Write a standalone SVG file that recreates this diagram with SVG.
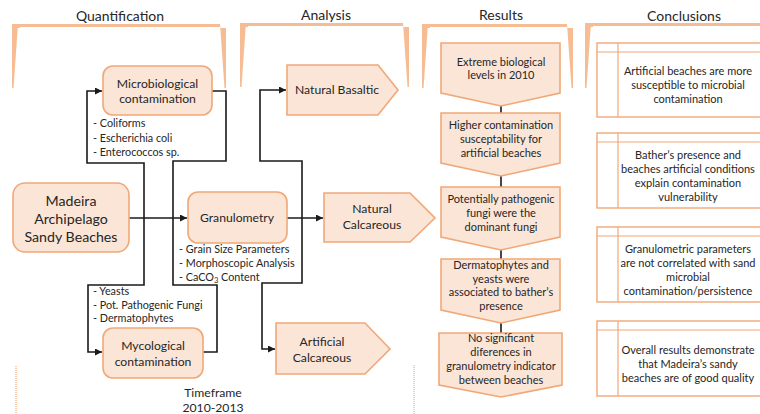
<svg xmlns="http://www.w3.org/2000/svg" width="760" height="414" viewBox="0 0 760 414">
<defs>
<style>
text{font-family:Lato,"Liberation Sans",sans-serif;fill:#262626;text-anchor:middle}
.hdr{font-size:14px}
.bk{fill:#F6BD95}
.nd{fill:#FBE5D6;stroke:#F0A878;stroke-width:1.6}
.cl{fill:#fff;stroke:#F0A878;stroke-width:1.4}
.ln{fill:none;stroke:#F0A878;stroke-width:1.2}
.t12{font-size:11px}
.t13{font-size:12.2px}
.t16{font-size:14.2px}
.bl{font-size:10.8px;text-anchor:start}
.cn{fill:none;stroke:#1a1a1a;stroke-width:1.6}
.dot{fill:none;stroke:#F6BD95;stroke-width:1.5;stroke-dasharray:1 1}
</style>
<marker id="ar" viewBox="0 0 8 8" refX="8" refY="4" markerWidth="7" markerHeight="7" markerUnits="userSpaceOnUse" orient="auto">
<path d="M0,0 L8,4 L0,8 Z" fill="#1a1a1a"/>
</marker>
</defs>
<rect width="760" height="414" fill="#fff"/>

<g id="headers">
<text class="hdr" x="120" y="21">Quantification</text>
<text class="hdr" x="326" y="20">Analysis</text>
<text class="hdr" x="501" y="20">Results</text>
<text class="hdr" x="684" y="21">Conclusions</text>
</g>

<g id="brackets">
<path class="bk" d="M12,24 H226 V28 H220 V27 H20 V28 H12 Z M12,24 L18,24 L13.5,88 L12,88 Z M226,24 L220,24 L224.5,88 L226,88 Z"/>
<path class="bk" d="M240,23 H409 V27 H403 V26 H248 V27 H240 Z M240,23 L246,23 L241.5,87 L240,87 Z M409,23 L403,23 L407.5,87 L409,87 Z"/>
<path class="bk" d="M422,24 H573 V28 H567 V27 H430 V28 H422 Z M422,24 L428,24 L423.5,88 L422,88 Z M573,24 L567,24 L571.5,88 L573,88 Z"/>
<path class="bk" d="M585,23 H770 V26 H593 V27 H585 Z M585,23 L591,23 L586.5,88 L585,88 Z"/>
<line class="dot" x1="16" y1="366" x2="16" y2="414"/>
<line class="dot" x1="414" y1="365" x2="414" y2="414"/>
</g>

<g id="connectors">
<path class="cn" d="M129,218 H187" marker-end="url(#ar)"/>
<path class="cn" d="M144,218 V163 H87 V91 H102" marker-end="url(#ar)"/>
<path class="cn" d="M144,218 V285 H88 V352 H102" marker-end="url(#ar)"/>
<path class="cn" d="M212,91 H226 V161 H173 V285 H217 V352 H203"/>
<path class="cn" d="M287,218 H323" marker-end="url(#ar)"/>
<path class="cn" d="M302,218 V161 H260 V90 H286" marker-end="url(#ar)"/>
<path class="cn" d="M302,218 V283 H262 V349 H275" marker-end="url(#ar)"/>
<path class="cn" d="M501,106 V113 M501,176 V187 M501,250 V259 M501,323 V333"/>
</g>

<g id="madeira">
<rect class="nd" x="13" y="183" width="116" height="69" rx="12"/>
<text class="t16" x="71" y="206">Madeira</text>
<text class="t16" x="71" y="224">Archipelago</text>
<text class="t16" x="71" y="242">Sandy Beaches</text>
</g>

<g id="microbiological">
<rect class="nd" x="103" y="66" width="109" height="49" rx="10"/>
<text class="t13" x="157.5" y="87.5">Microbiological</text>
<text class="t13" x="157.5" y="102.5">contamination</text>
<text class="bl" x="93" y="127">- Coliforms</text>
<text class="bl" x="93" y="141.5">- Escherichia coli</text>
<text class="bl" x="93" y="156">- Enterococcos sp.</text>
</g>

<g id="granulometry">
<rect class="nd" x="188" y="192" width="99" height="51" rx="10"/>
<text class="t13" x="237" y="222">Granulometry</text>
<text class="bl" x="179" y="253">- Grain Size Parameters</text>
<text class="bl" x="179" y="267">- Morphoscopic Analysis</text>
<text class="bl" x="179" y="281">- CaCO<tspan font-size="7.5" dy="2">3</tspan><tspan dy="-2"> Content</tspan></text>
</g>

<g id="mycological">
<rect class="nd" x="103" y="328" width="100" height="50" rx="10"/>
<text class="t13" x="153" y="350">Mycological</text>
<text class="t13" x="153" y="366">contamination</text>
<text class="bl" x="93" y="295">- Yeasts</text>
<text class="bl" x="93" y="308.5">- Pot. Pathogenic Fungi</text>
<text class="bl" x="93" y="322">- Dermatophytes</text>
</g>

<g id="timeframe">
<text class="t13" x="213" y="397">Timeframe</text>
<text class="t13" x="213" y="412">2010-2013</text>
</g>

<g id="natural-basaltic">
<path class="nd" d="M287,65 H378 L398,90 L378,115 H287 Z"/>
<text class="t13" x="337" y="94">Natural Basaltic</text>
</g>

<g id="natural-calcareous">
<path class="nd" d="M324,193 H410 L435,218 L410,242 H324 Z"/>
<text class="t13" x="372" y="213">Natural</text>
<text class="t13" x="372" y="229">Calcareous</text>
</g>

<g id="artificial-calcareous">
<path class="nd" d="M276,323 H365 L390,349 L365,374 H276 Z"/>
<text class="t13" x="322" y="346">Artificial</text>
<text class="t13" x="322" y="362">Calcareous</text>
</g>

<g id="result1">
<path class="nd" d="M441,43 H560 V93 L501,106 L441,93 Z"/>
<text class="t12" x="501" y="66">Extreme biological</text>
<text class="t12" x="501" y="79">levels in 2010</text>
</g>
<g id="result2">
<path class="nd" d="M441,113 H560 V163 L501,176 L441,163 Z"/>
<text class="t12" x="501" y="129">Higher contamination</text>
<text class="t12" x="501" y="143">susceptability for</text>
<text class="t12" x="501" y="157">artificial beaches</text>
</g>
<g id="result3">
<path class="nd" d="M441,187 H560 V237 L501,250 L441,237 Z"/>
<text class="t12" x="501" y="203">Potentially pathogenic</text>
<text class="t12" x="501" y="217">fungi were the</text>
<text class="t12" x="501" y="231">dominant fungi</text>
</g>
<g id="result4">
<path class="nd" d="M441,259 H560 V310 L501,323 L441,310 Z"/>
<text class="t12" x="501" y="269">Dermatophytes and</text>
<text class="t12" x="501" y="282.5">yeasts were</text>
<text class="t12" x="501" y="296">associated to bather’s</text>
<text class="t12" x="501" y="309.5">presence</text>
</g>
<g id="result5">
<path class="nd" d="M439,333 H562 V385 L501,397 L439,385 Z"/>
<text class="t12" x="501" y="342">No significant</text>
<text class="t12" x="501" y="356">diferences in</text>
<text class="t12" x="501" y="370">granulometry indicator</text>
<text class="t12" x="501" y="384">between beaches</text>
</g>

<g id="conclusion1">
<rect class="cl" x="597" y="43" width="180" height="74"/>
<path class="ln" d="M597,52 H777 M618,43 V117"/>
<text class="t12" x="688" y="75">Artificial beaches are more</text>
<text class="t12" x="688" y="89">susceptible to microbial</text>
<text class="t12" x="688" y="102.5">contamination</text>
</g>
<g id="conclusion2">
<rect class="cl" x="597" y="133" width="180" height="75"/>
<path class="ln" d="M597,142 H777 M618,133 V208"/>
<text class="t12" x="688" y="159">Bather’s presence and</text>
<text class="t12" x="688" y="173">beaches artificial conditions</text>
<text class="t12" x="688" y="187">explain contamination</text>
<text class="t12" x="688" y="201">vulnerability</text>
</g>
<g id="conclusion3">
<rect class="cl" x="597" y="227" width="180" height="75"/>
<path class="ln" d="M597,236 H777 M618,227 V302"/>
<text class="t12" x="688" y="253">Granulometric parameters</text>
<text class="t12" x="688" y="267">are not correlated with sand</text>
<text class="t12" x="688" y="281">microbial</text>
<text class="t12" x="688" y="294.5">contamination/persistence</text>
</g>
<g id="conclusion4">
<rect class="cl" x="597" y="321" width="180" height="75"/>
<path class="ln" d="M597,330 H777 M618,321 V396"/>
<text class="t12" x="688" y="354">Overall results demonstrate</text>
<text class="t12" x="688" y="368">that Madeira’s sandy</text>
<text class="t12" x="688" y="381.5">beaches are of good quality</text>
</g>
</svg>
